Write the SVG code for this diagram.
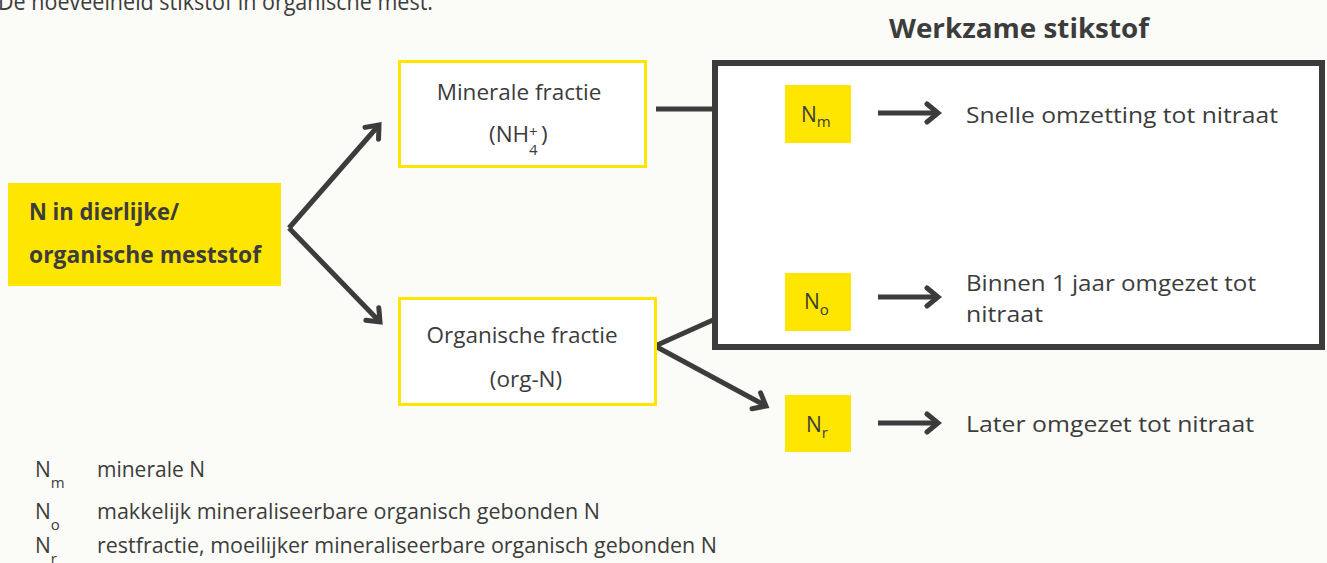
<svg xmlns="http://www.w3.org/2000/svg" width="1327" height="563" viewBox="0 0 1327 563">
<defs>
<style>
text{font-family:"Open Sans","Liberation Sans",sans-serif;fill:#3c3c3c;}
.t{font-size:22.5px;}
.b{font-weight:bold;}
.sub{font-size:15px;}
.lg{font-size:21px;}
.lsub{font-size:15px;}
.conn{stroke:#3c3c3c;stroke-width:5;fill:none;stroke-linecap:butt;}
.yb{fill:#FFE600;}
.yo{fill:#ffffff;stroke:#FFE600;stroke-width:3;}
</style>
<marker id="ah" viewBox="-16 -12 20 24" refX="0" refY="0" markerWidth="20" markerHeight="24" markerUnits="userSpaceOnUse" orient="auto">
<path d="M-11,-9 L0,0 L-11,9" fill="none" stroke="#3c3c3c" stroke-width="5" stroke-linecap="round" stroke-linejoin="miter"/>
</marker>
</defs>
<rect x="0" y="0" width="1327" height="563" fill="#FBFBF7"/>
<text x="-2" y="10" font-size="24" textLength="435" lengthAdjust="spacingAndGlyphs">De hoeveelheid stikstof in organische mest.</text>
<text x="889" y="38" class="b" font-size="26.5" textLength="260" lengthAdjust="spacingAndGlyphs">Werkzame stikstof</text>

<g id="bigbox">
<rect x="715" y="63" width="607" height="284" fill="#ffffff" stroke="#3c3c3c" stroke-width="6"/>
</g>

<g id="connectors">
<path class="conn" d="M289,228 L379,125" marker-end="url(#ah)"/>
<path class="conn" d="M289,228 L380,322" marker-end="url(#ah)"/>
<path class="conn" d="M656,109 L713,109"/>
<path class="conn" d="M655,346 L713,320"/>
<path class="conn" d="M655,346 L766,406" marker-end="url(#ah)"/>
<path class="conn" stroke-width="6" d="M878,113 L938,113" marker-end="url(#ah)"/>
<path class="conn" stroke-width="6" d="M878,297 L938,297" marker-end="url(#ah)"/>
<path class="conn" stroke-width="6" d="M878,423 L938,423" marker-end="url(#ah)"/>
</g>

<g id="source">
<rect class="yb" x="8" y="183" width="273" height="103"/>
<text x="29" y="220" class="t b" textLength="150" lengthAdjust="spacingAndGlyphs">N in dierlijke/</text>
<text x="29" y="263" class="t b" textLength="232" lengthAdjust="spacingAndGlyphs">organische meststof</text>
</g>

<g id="mineral">
<rect class="yo" x="399.5" y="61.5" width="246" height="105"/>
<text x="519" y="100" class="t" text-anchor="middle">Minerale fractie</text>
<text x="489" y="142" class="t">(NH<tspan class="sub" x="529" dy="13">4</tspan><tspan class="sub" x="529" dy="-18">+</tspan><tspan x="541" dy="5">)</tspan></text>
</g>

<g id="organic">
<rect class="yo" x="399.5" y="298.5" width="256" height="106"/>
<text x="522" y="343" class="t" text-anchor="middle">Organische fractie</text>
<text x="526" y="387" class="t" text-anchor="middle">(org-N)</text>
</g>

<g id="nm">
<rect class="yb" x="785" y="85" width="66" height="58"/>
<text x="801" y="122" font-size="21">N<tspan class="sub" dy="5">m</tspan></text>
<text x="966" y="123" class="t" textLength="312" lengthAdjust="spacingAndGlyphs">Snelle omzetting tot nitraat</text>
</g>

<g id="no">
<rect class="yb" x="785" y="273" width="66" height="58"/>
<text x="804" y="309" font-size="21">N<tspan class="sub" dy="6">o</tspan></text>
<text x="966" y="291" class="t" textLength="290" lengthAdjust="spacingAndGlyphs">Binnen 1 jaar omgezet tot</text>
<text x="966" y="322" class="t" textLength="77" lengthAdjust="spacingAndGlyphs">nitraat</text>
</g>

<g id="nr">
<rect class="yb" x="785" y="395" width="66" height="57"/>
<text x="806" y="432" font-size="21">N<tspan class="sub" dy="6">r</tspan></text>
<text x="966" y="432" class="t" textLength="288" lengthAdjust="spacingAndGlyphs">Later omgezet tot nitraat</text>
</g>

<g id="legend">
<text x="35" y="477" class="lg">N<tspan class="lsub" dy="11">m</tspan></text>
<text x="97" y="477" class="lg" textLength="108" lengthAdjust="spacingAndGlyphs">minerale N</text>
<text x="35" y="519" class="lg">N<tspan class="lsub" dy="11">o</tspan></text>
<text x="97" y="519" class="lg" textLength="503" lengthAdjust="spacingAndGlyphs">makkelijk mineraliseerbare organisch gebonden N</text>
<text x="35" y="553" class="lg">N<tspan class="lsub" dy="11">r</tspan></text>
<text x="97" y="553" class="lg" textLength="620" lengthAdjust="spacingAndGlyphs">restfractie, moeilijker mineraliseerbare organisch gebonden N</text>
</g>
</svg>
